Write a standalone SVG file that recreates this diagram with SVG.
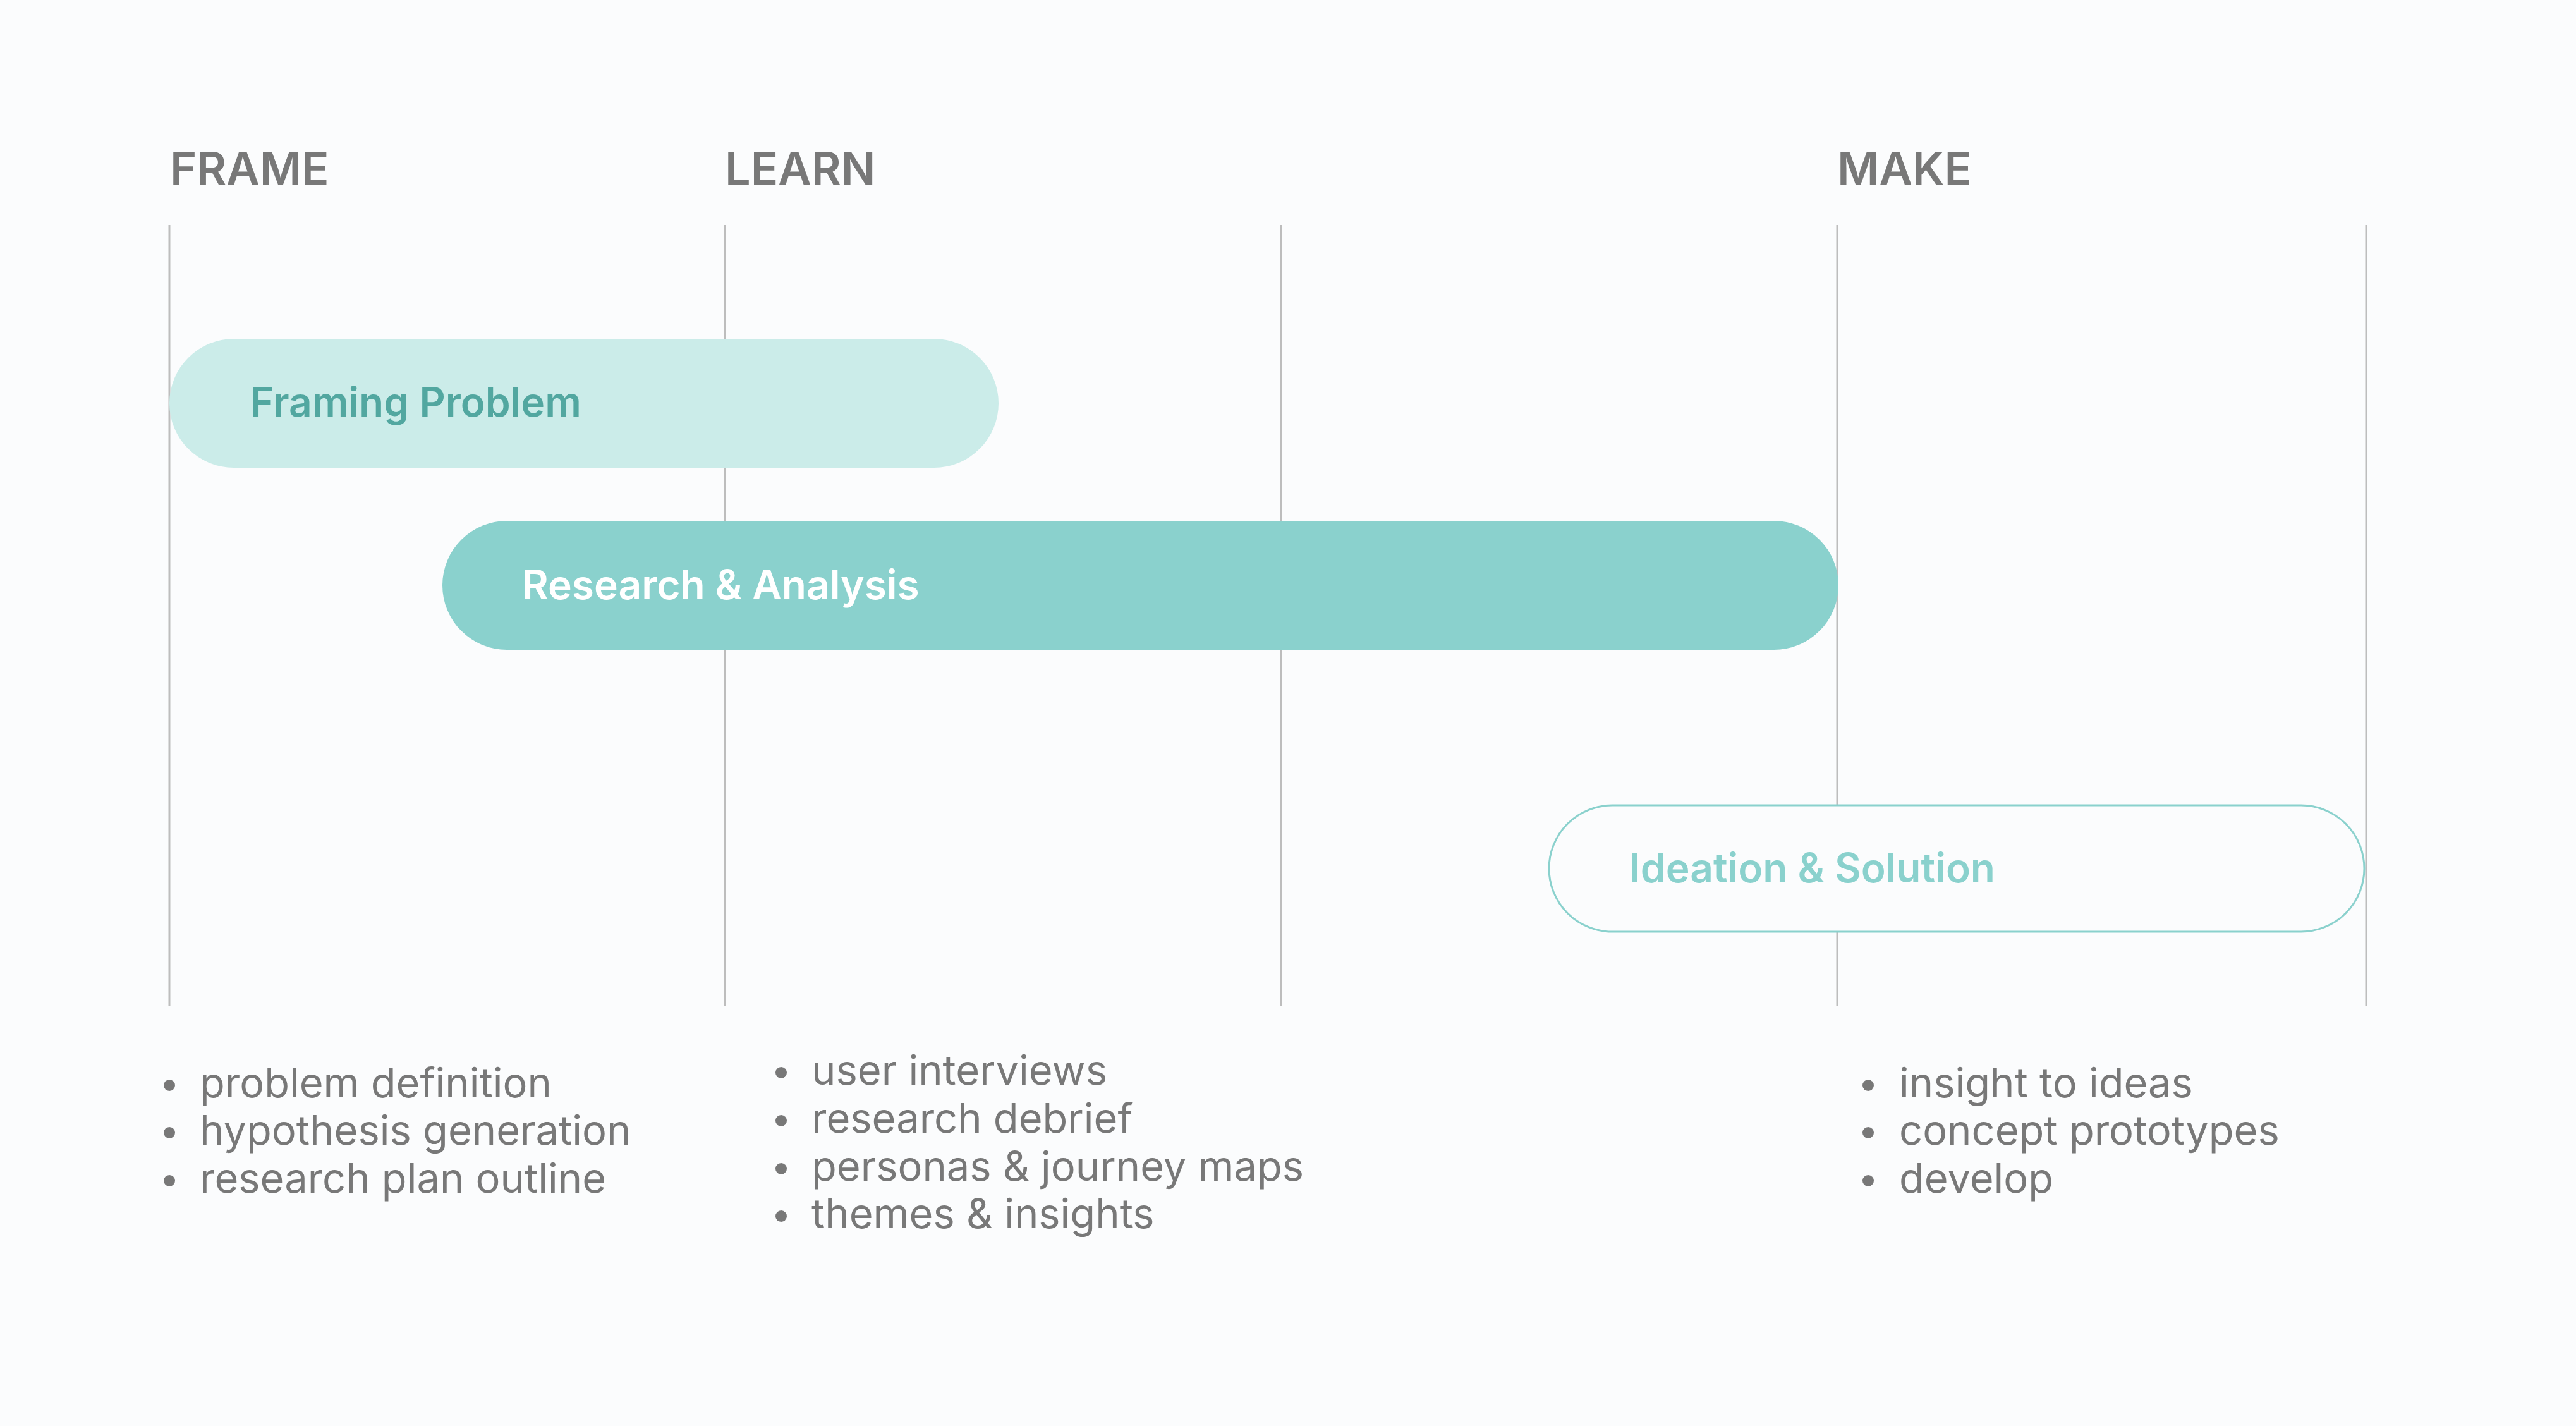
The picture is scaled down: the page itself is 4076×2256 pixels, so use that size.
<svg xmlns="http://www.w3.org/2000/svg" width="4076" height="2256" viewBox="0 0 4076 2256">
<style>
.bg{fill:#FBFCFD}
.grid{stroke:#BDBDBD;stroke-width:3}
.head{font-family:Inter,"Noto Sans",sans-serif;font-size:72px;font-weight:600;fill:#787878}
.lbl{font-family:Inter,"Noto Sans",sans-serif;font-size:64px;font-weight:600}
.item{font-family:Inter,"Noto Sans",sans-serif;font-size:65px;font-weight:400;fill:#787878}
.dot{fill:#787878}
</style>
<rect class="bg" x="0" y="0" width="4076" height="2256"/>
<g id="headings">
<text class="head" x="269" y="292">FRAME</text>
<text class="head" x="1147" y="292">LEARN</text>
<text class="head" x="2907" y="292">MAKE</text>
</g>
<g id="gridlines">
<line class="grid" x1="268" y1="356" x2="268" y2="1592"/>
<line class="grid" x1="1147" y1="356" x2="1147" y2="1592"/>
<line class="grid" x1="2027" y1="356" x2="2027" y2="1592"/>
<line class="grid" x1="2907" y1="356" x2="2907" y2="1592"/>
<line class="grid" x1="3744" y1="356" x2="3744" y2="1592"/>
</g>
<g id="framing">
<rect x="268" y="536" width="1312" height="204" rx="102" ry="102" fill="#CBECE9"/>
<text class="lbl" x="396" y="659" fill="#52A7A0">Framing Problem</text>
</g>
<g id="research">
<rect x="700" y="824" width="2209" height="204" rx="102" ry="102" fill="#8AD1CD"/>
<text class="lbl" x="826" y="948" fill="#FFFFFF">Research &amp; Analysis</text>
</g>
<g id="ideation">
<rect x="2451" y="1274" width="1290" height="200" rx="100" ry="100" fill="#FBFCFD" stroke="#8AD1CD" stroke-width="3"/>
<text class="lbl" x="2578" y="1396" fill="#8AD1CD">Ideation &amp; Solution</text>
</g>
<g id="frame-list">
<circle class="dot" cx="268" cy="1717" r="9"/>
<circle class="dot" cx="268" cy="1792" r="9"/>
<circle class="dot" cx="268" cy="1868" r="9"/>
<text class="item" x="316" y="1736">problem definition</text>
<text class="item" x="316" y="1811">hypothesis generation</text>
<text class="item" x="316" y="1887">research plan outline</text>
</g>
<g id="learn-list">
<circle class="dot" cx="1236" cy="1697" r="9"/>
<circle class="dot" cx="1236" cy="1773" r="9"/>
<circle class="dot" cx="1236" cy="1849" r="9"/>
<circle class="dot" cx="1236" cy="1924" r="9"/>
<text class="item" x="1284" y="1716">user interviews</text>
<text class="item" x="1284" y="1792">research debrief</text>
<text class="item" x="1284" y="1868">personas &amp; journey maps</text>
<text class="item" x="1284" y="1943">themes &amp; insights</text>
</g>
<g id="make-list">
<circle class="dot" cx="2956" cy="1717" r="9"/>
<circle class="dot" cx="2956" cy="1792" r="9"/>
<circle class="dot" cx="2956" cy="1868" r="9"/>
<text class="item" x="3005" y="1736">insight to ideas</text>
<text class="item" x="3005" y="1811">concept prototypes</text>
<text class="item" x="3005" y="1887">develop</text>
</g>
</svg>
